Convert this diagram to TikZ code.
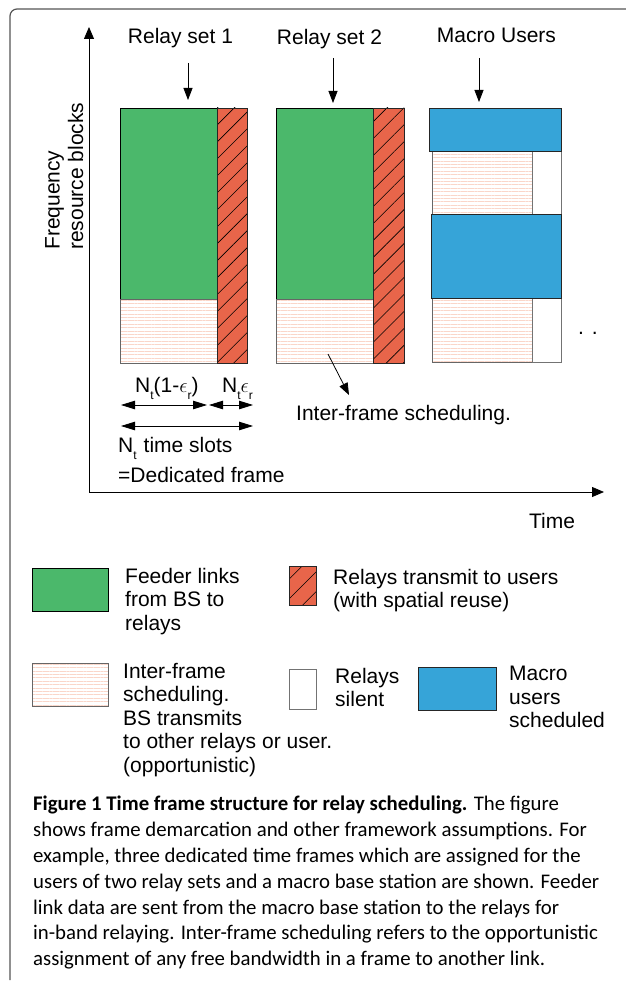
\documentclass[tikz,border=0pt]{standalone}
\usepackage{fontspec}
\setmainfont{Liberation Sans}
\newfontfamily\capfont{Carlito}
\usetikzlibrary{arrows.meta,patterns.meta}
\definecolor{feedgreen}{HTML}{4BB86B}
\definecolor{txred}{HTML}{E8654A}
\definecolor{macroblue}{HTML}{36A4D8}
\definecolor{linepink}{HTML}{FAD6C9}
\definecolor{framegray}{HTML}{555555}
\newcommand{\lowsub}[1]{\raisebox{-7pt}{\fontsize{12}{12}\selectfont #1}}
\tikzset{
  blk/.style={rectangle, inner sep=0pt, outer sep=0pt, anchor=north west, line width=0.8pt},
  feeder/.style={blk, draw=black, fill=feedgreen},
  relaytx/.style={blk, draw=black!85, preaction={fill=txred},
    pattern={Lines[angle=45,distance=#1,line width=0.6pt]}, pattern color=black},
  relaytx/.default=12pt,
  interframe/.style={blk, draw=black!60,
    pattern={Lines[angle=0,distance=3.4pt,line width=0.45pt]}, pattern color=linepink},
  silent/.style={blk, draw=black!55, fill=white},
  macro/.style={blk, draw=black!85, fill=macroblue},
  lbl/.style={inner sep=0pt, font=\fontsize{21}{23.5}\selectfont},
  tip/.style={-{Triangle[length=12pt,width=9pt]}, line width=0.8pt},
  dimarrow/.style={{Triangle[length=14pt,width=8.5pt]}-{Triangle[length=14pt,width=8.5pt]}, line width=0.8pt},
}
\begin{document}
\begin{tikzpicture}[x=1pt, y=-1pt]
\useasboundingbox (0,0) rectangle (625,987);
\draw[framegray, line width=1.2pt, rounded corners=7pt] (10,980) -- (10,9) -- (626,9);

% axes
\coordinate (origin) at (89,492);
\coordinate (ytop) at (89,27);
\coordinate (xend) at (604,492);
\draw[-{Triangle[length=12pt,width=10pt]}, line width=0.8pt] (origin) -- (ytop);
\draw[-{Triangle[length=12pt,width=10pt]}, line width=0.8pt] (origin) -- (xend);
\node[lbl, anchor=north west, rotate=90, align=left] (freq) at (45,250) {Frequency\\resource blocks};
\node[lbl, anchor=base] (time) at (552,528) {Time};

% frames
\node[feeder, minimum width=97pt, minimum height=191pt] (feed1) at (120,108) {};
\node[interframe, minimum width=97pt, minimum height=64pt] (if1) at (120,299) {};
\node[relaytx, minimum width=30pt, minimum height=255pt] (tx1) at (217,108) {};
\node[feeder, minimum width=97pt, minimum height=191pt] (feed2) at (276,108) {};
\node[interframe, minimum width=97pt, minimum height=64pt] (if2) at (276,299) {};
\node[relaytx, minimum width=31pt, minimum height=255pt] (tx2) at (373,108) {};
\node[interframe, minimum width=100pt, minimum height=63pt] (if3) at (432,151) {};
\node[silent, minimum width=29pt, minimum height=63pt] (sil1) at (532,151) {};
\node[interframe, minimum width=100pt, minimum height=64pt] (if4) at (432,298) {};
\node[silent, minimum width=29pt, minimum height=64pt] (sil2) at (532,298) {};
\node[macro, minimum width=132pt, minimum height=43pt] (mu1) at (429,108) {};
\node[macro, minimum width=130pt, minimum height=84pt] (mu2) at (431,214) {};
\node[lbl, anchor=base west] (more) at (578,334) {. .};

\node[lbl, anchor=base] (rs1) at (180.5,44) {Relay set 1};
\node[lbl, anchor=base] (rs2) at (329.5,45) {Relay set 2};
\node[lbl, anchor=base] (mus) at (496.5,43) {Macro Users};
\coordinate (rs1tail) at (188,63);
\coordinate (rs2tail) at (333,58);
\coordinate (mutail) at (479,58);
\draw[tip, shorten >=8pt] (rs1tail) -- (rs1tail |- feed1.north);
\draw[tip, shorten >=5pt] (rs2tail) -- (rs2tail |- feed2.north);
\draw[tip, shorten >=6pt] (mutail) -- (mutail |- mu1.north);

% frame length
\node[lbl, anchor=base west] (nfeed) at (135,392) {N\lowsub{t}(1-$\epsilon$\lowsub{r})};
\node[lbl, anchor=base west] (ntx) at (222,392) {N\lowsub{t}$\epsilon$\lowsub{r}};
\coordinate (d1l) at (121,405);
\coordinate (d1r) at (207,405);
\coordinate (d2l) at (209,405);
\coordinate (d2r) at (253,405);
\coordinate (d3l) at (121,426);
\coordinate (d3r) at (253,426);
\draw[dimarrow] (d1l) -- (d1r);
\draw[dimarrow] (d2l) -- (d2r);
\draw[dimarrow] (d3l) -- (d3r);
\node[lbl, anchor=base west] (nslots) at (118,452) {N\lowsub{t}\hspace{7pt}time slots};
\node[lbl, anchor=base west] (dedic) at (118,482) {=Dedicated frame};
\node[lbl, anchor=base west] (ifsched) at (296,420) {Inter-frame scheduling.};
\coordinate (iftail) at (328,354);
\coordinate (ifhead) at (349,395);
\draw[tip] (iftail) -- (ifhead);

% legend
\node[feeder, minimum width=76pt, minimum height=43pt] (lgfeed) at (32,568) {};
\node[lbl, anchor=north west, align=left] (lgfeedtxt) at (125,568) {Feeder links\\from BS to\\relays};
\node[relaytx=14pt, minimum width=27pt, minimum height=39pt] (lgtx) at (289,566) {};
\node[lbl, anchor=north west, align=left] (lgtxtxt) at (333,569) {Relays transmit to users\\(with spatial reuse)};
\node[interframe, minimum width=76pt, minimum height=43pt] (lgif) at (32,663) {};
\node[lbl, anchor=north west, align=left] (lgiftxt) at (123,663) {Inter-frame\\scheduling.\\BS transmits\\to other relays or user.\\(opportunistic)};
\node[silent, minimum width=27pt, minimum height=40pt] (lgsil) at (289,669) {};
\node[lbl, anchor=north west, align=left] (lgsiltxt) at (335,668) {Relays\\silent};
\node[macro, minimum width=78pt, minimum height=43pt] (lgmu) at (418,667) {};
\node[lbl, anchor=north west, align=left] (lgmutxt) at (509,666) {Macro\\users\\scheduled};

% caption
\node[inner sep=0pt, anchor=north west, align=left, font=\capfont\fontsize{20.8}{25.8}\selectfont] (caption) at (33,796)
  {\textbf{Figure 1 Time frame structure for relay scheduling.} The figure\\
   shows frame demarcation and other framework assumptions. For\\
   example, three dedicated time frames which are assigned for the\\
   users of two relay sets and a macro base station are shown. Feeder\\
   link data are sent from the macro base station to the relays for\\
   in-band relaying. Inter-frame scheduling refers to the opportunistic\\
   assignment of any free bandwidth in a frame to another link.};
\end{tikzpicture}
\end{document}
